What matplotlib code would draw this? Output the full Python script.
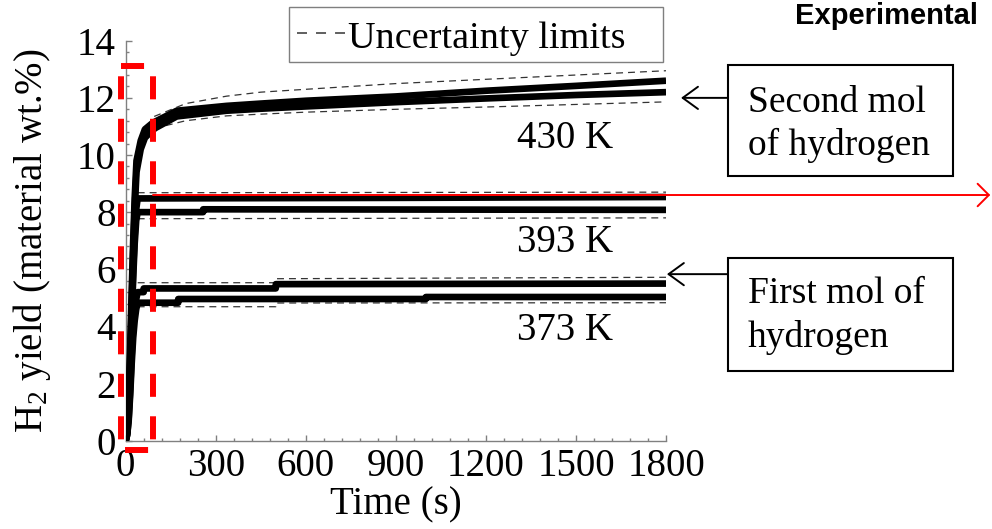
import matplotlib
matplotlib.use("Agg")
import matplotlib.pyplot as plt
from matplotlib.lines import Line2D
from matplotlib.patches import Rectangle
from matplotlib.ticker import MultipleLocator

plt.rcParams["font.family"] = ["Liberation Serif", "DejaVu Serif"]
plt.rcParams["mathtext.fontset"] = "custom"
plt.rcParams["mathtext.rm"] = "Liberation Serif"
plt.rcParams["mathtext.it"] = "Liberation Serif:italic"
plt.rcParams["lines.scale_dashes"] = False

# measured hydrogen yield, two runs per temperature
time_430 = [0, 5, 10, 15, 20, 25, 30, 36, 50, 64, 87, 100, 170, 336, 450, 600, 900, 1200, 1500, 1800]
h2_430_a = [0, 0.4, 1.5, 3.2, 5.2, 7.0, 8.5, 9.8, 10.5, 10.9, 11.1, 11.18, 11.55, 11.72, 11.8, 11.9, 12.05, 12.25, 12.42, 12.6]
h2_430_b = [0, 0.35, 1.3, 2.9, 4.8, 6.6, 8.1, 9.4, 10.2, 10.6, 10.85, 10.95, 11.35, 11.55, 11.62, 11.7, 11.85, 11.98, 12.1, 12.2]

time_393_a = [0, 5, 10, 15, 20, 25, 30, 35, 40, 900, 1800]
h2_393_a = [0, 0.3, 1.2, 2.7, 4.4, 6.0, 7.2, 8.1, 8.48, 8.5, 8.53]
time_393_b = [0, 5, 10, 15, 20, 25, 30, 35, 40, 258, 258, 1800]
h2_393_b = [0, 0.3, 1.1, 2.5, 4.2, 5.7, 6.9, 7.7, 8.0, 8.0, 8.1, 8.08]

time_373_a = [0, 5, 10, 15, 20, 25, 30, 35, 40, 60, 60, 500, 500, 1800]
h2_373_a = [0, 0.2, 0.8, 1.8, 3.0, 4.0, 4.6, 4.95, 5.2, 5.2, 5.33, 5.33, 5.48, 5.5]
time_373_b = [0, 5, 10, 15, 20, 25, 30, 35, 40, 175, 175, 1000, 1000, 1800]
h2_373_b = [0, 0.2, 0.7, 1.6, 2.7, 3.6, 4.2, 4.6, 4.83, 4.83, 4.96, 4.96, 5.03, 5.03]

# uncertainty limits
time_unc_430 = [95, 200, 336, 450, 600, 900, 1200, 1500, 1800]
unc_430_hi = [11.35, 11.8, 12.06, 12.2, 12.3, 12.5, 12.65, 12.8, 12.95]
unc_430_lo = [10.93, 11.2, 11.37, 11.43, 11.5, 11.6, 11.68, 11.77, 11.86]
time_unc_393 = [40, 1800]
unc_393_hi = [8.68, 8.7]
unc_393_lo = [7.77, 7.8]
time_unc_373 = [40, 500, 500, 1800]
unc_373_hi = [5.53, 5.53, 5.67, 5.72]
unc_373_lo = [4.69, 4.69, 4.82, 4.83]

temp_labels = ["430 K", "393 K", "373 K"]
label_pos = [(1303, 10.25), (1303, 6.6), (1303, 3.52)]

fig = plt.figure(figsize=(9.92, 5.29), dpi=100)
ax = fig.add_axes([0.1267, 0.1669, 0.5447, 0.7561])

dash_style = (0, (5.0, 3.6))
for t, lo, hi in [(time_unc_430, unc_430_lo, unc_430_hi),
                  (time_unc_393, unc_393_lo, unc_393_hi),
                  (time_unc_373, unc_373_lo, unc_373_hi)]:
    ax.plot(t, hi, color="#333333", lw=0.9, linestyle=dash_style, zorder=2)
    ax.plot(t, lo, color="#333333", lw=0.9, linestyle=dash_style, zorder=2)

for t, y in [(time_430, h2_430_a), (time_430, h2_430_b),
             (time_393_a, h2_393_a), (time_393_b, h2_393_b),
             (time_373_a, h2_373_a), (time_373_b, h2_373_b)]:
    ax.plot(t, y, color="black", lw=4.8, solid_capstyle="butt", zorder=3)

for txt, (x, y) in zip(temp_labels, label_pos):
    ax.text(x, y, txt, fontsize=28, ha="left", va="baseline")

ax.set_xlim(0, 1800)
ax.set_ylim(0, 14)
ax.set_xticks(range(0, 1801, 300))
ax.set_yticks(range(0, 15, 2))
ax.xaxis.set_minor_locator(MultipleLocator(60))
ax.yaxis.set_minor_locator(MultipleLocator(0.4))
for side in ["top", "right"]:
    ax.spines[side].set_visible(False)
for side in ["left", "bottom"]:
    ax.spines[side].set_color("#808080")
    ax.spines[side].set_linewidth(1.0)
ax.tick_params(which="both", direction="in", colors="#808080", labelcolor="black", width=1.0)
ax.tick_params(which="major", length=4.5, labelsize=28)
ax.tick_params(which="minor", length=2.5)
ax.tick_params(axis="y", which="major", pad=7)
ax.tick_params(axis="x", which="major", pad=5)

ax.set_xlabel("Time (s)", fontsize=28)
ax.set_ylabel("H$_2$ yield (material wt.%)", fontsize=28)
ax.xaxis.set_label_coords(0.5, -0.115)
ax.yaxis.set_label_coords(-0.135, 0.5)

# red dashed frame around the initial rise
xl, xr, yt, yb = -15.6, 91, 13.13, -0.31
red_lw = 4.3
frame = [((xl, xl), (yt, yb), (23.2, (16.6, 14.0))),
         ((xr, xr), (yt, yb), (23.2, (16.6, 14.0))),
         ((xl, xr), (yt, yt), (0, (16.6, 14.0))),
         ((xl, xr), (yb, yb), (27.7, (16.6, 14.0)))]
for xs, ys, ls in frame:
    ax.add_line(Line2D(xs, ys, color="red", lw=red_lw, linestyle=ls,
                       clip_on=False, zorder=5))

ax.annotate("", xy=(2880, 8.6), xytext=(xr, 8.6), annotation_clip=False,
            arrowprops=dict(arrowstyle="->,head_length=0.45,head_width=0.45",
                            color="red", lw=1.4, mutation_scale=18,
                            shrinkA=0, shrinkB=0), zorder=6)

# callout boxes
ax.annotate("", xy=(1850, 12.0), xytext=(2006, 12.0), annotation_clip=False,
            arrowprops=dict(arrowstyle="->,head_length=0.55,head_width=0.4",
                            color="black", lw=1.4, mutation_scale=20,
                            shrinkA=0, shrinkB=0))
ax.annotate("", xy=(1803, 5.83), xytext=(2006, 5.83), annotation_clip=False,
            arrowprops=dict(arrowstyle="->,head_length=0.55,head_width=0.4",
                            color="black", lw=1.4, mutation_scale=20,
                            shrinkA=0, shrinkB=0))

fig.patches.append(Rectangle((0.7339, 0.6673), 0.2268, 0.2098, transform=fig.transFigure,
                             fill=False, edgecolor="black", lw=1.5))
fig.patches.append(Rectangle((0.7339, 0.2987), 0.2268, 0.2136, transform=fig.transFigure,
                             fill=False, edgecolor="black", lw=1.5))
fig.text(0.754, 0.7883, "Second mol", fontsize=27, va="baseline")
fig.text(0.754, 0.7070, "of hydrogen", fontsize=27, va="baseline")
fig.text(0.754, 0.4272, "First mol of", fontsize=27, va="baseline")
fig.text(0.754, 0.3440, "hydrogen", fontsize=27, va="baseline")

# legend drawn by hand
fig.patches.append(Rectangle((0.2913, 0.8828), 0.377, 0.104, transform=fig.transFigure,
                             fill=False, edgecolor="#7f7f7f", lw=1.0))
fig.add_artist(Line2D([297 / 992, 345 / 992], [0.9376, 0.9376], transform=fig.transFigure,
                      color="#444444", lw=1.2, linestyle=(0, (7.2, 6.5))))
fig.text(0.3508, 0.9093, "Uncertainty limits", fontsize=27.5, va="baseline")

fig.text(0.8014, 0.9545, "Experimental", fontsize=21, fontweight="bold",
         family="Liberation Sans", va="baseline")

fig.savefig("out.png", dpi=100)
